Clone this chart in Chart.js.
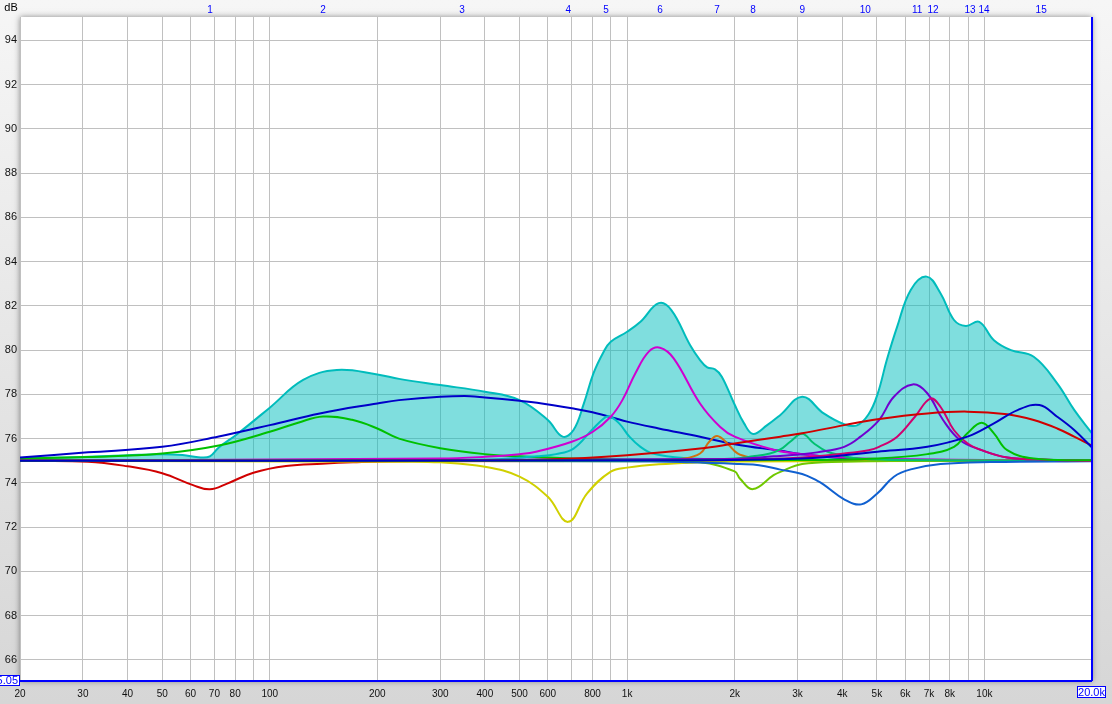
<!DOCTYPE html>
<html>
<head>
<meta charset="utf-8">
<title>EQ bands</title>
<script src="https://cdn.jsdelivr.net/npm/chart.js@4.4.1/dist/chart.umd.min.js"></script>
<style>
	html, body { margin: 0; padding: 0; background: #e8e8e8; overflow: hidden; }
</style>
</head>
<body>
<canvas id="eq" width="1112" height="704"></canvas>
<script>
// axis ticks
const xTicks = [20, 30, 40, 50, 60, 70, 80, 90, 100, 200, 300, 400, 500, 600, 700, 800, 900,
	1000, 2000, 3000, 4000, 5000, 6000, 7000, 8000, 9000, 10000, 20000];
const xUnlabelled = [90, 700, 900, 9000];
const yTicks = [66, 68, 70, 72, 74, 76, 78, 80, 82, 84, 86, 88, 90, 92, 94];

// band markers along the top
const bandHz = [68, 141, 345, 684, 873, 1236, 1786, 2250, 3090, 4640, 6480, 7180, 9110, 9980, 14410];
const bandNames = ['1', '2', '3', '4', '5', '6', '7', '8', '9', '10', '11', '12', '13', '14', '15'];
const bandColors = ['#d00000', '#00c000', '#0000c8', '#d0d000', '#00c0c0', '#d000d0', '#d07010',
	'#70c800', '#00c070', '#1060d0', '#7000d0', '#d00070', '#d00000', '#00c000', '#0000c8'];

// band curves (Hz / dB)
const band1Hz = [20, 31, 40, 50, 61, 68, 76, 90, 111, 140, 171, 250, 20000];
const band1Db = [74.99, 74.96, 74.75, 74.44, 73.9, 73.71, 73.97, 74.46, 74.76, 74.87, 74.93, 74.98, 75];
const band2Hz = [20, 31, 50, 72, 100, 120, 141, 170, 200, 230, 300, 400, 500, 700, 1000, 20000];
const band2Db = [75.1, 75.17, 75.33, 75.69, 76.31, 76.72, 77.0, 76.85, 76.46, 76.0, 75.57, 75.3, 75.2, 75.1, 75.05, 75];
const band3Hz = [20, 31, 50, 72, 100, 138, 200, 230, 300, 364, 400, 500, 560, 700, 800, 1000, 1226, 1600, 2000, 2685, 3090, 4000, 5000, 20000];
const band3Db = [75.15, 75.38, 75.63, 76.1, 76.61, 77.14, 77.59, 77.74, 77.89, 77.92, 77.86, 77.71, 77.62, 77.37, 77.19, 76.77, 76.46, 76.09, 75.75, 75.45, 75.3, 75.12, 75.06, 75];
const band4Hz = [20, 230, 300, 400, 500, 600, 684, 773, 900, 1000, 1226, 1600, 2000, 20000];
const band4Db = [75, 74.96, 74.93, 74.73, 74.28, 73.37, 72.24, 73.53, 74.51, 74.69, 74.84, 74.93, 74.97, 75];
const band5Hz = [20, 400, 560, 633, 708, 797, 860, 890, 950, 1015, 1090, 1180, 1440, 2000, 20000];
const band5Db = [75, 75.05, 75.2, 75.3, 75.55, 76.39, 76.91, 77.01, 76.69, 76.09, 75.63, 75.33, 75.12, 75.05, 75];
const band6Hz = [20, 300, 400, 500, 560, 700, 800, 900, 970, 1055, 1150, 1236, 1350, 1600, 1822, 2000, 2570, 3090, 4000, 5000, 20000];
const band6Db = [75, 75.1, 75.18, 75.3, 75.42, 75.86, 76.3, 76.99, 77.74, 78.95, 79.93, 80.11, 79.63, 77.59, 76.53, 76.09, 75.5, 75.3, 75.15, 75.08, 75];
const band7Hz = [20, 1200, 1440, 1600, 1698, 1786, 1906, 2037, 2220, 2600, 20000];
const band7Db = [75, 75.03, 75.1, 75.33, 75.86, 76.12, 75.79, 75.33, 75.15, 75.05, 75];
const band8Hz = [20, 1000, 1600, 2000, 2068, 2250, 2570, 2685, 3090, 4000, 6000, 20000];
const band8Db = [75, 74.98, 74.93, 74.52, 74.2, 73.72, 74.35, 74.5, 74.85, 74.96, 74.99, 75];
const band9Hz = [20, 1500, 2000, 2250, 2510, 2685, 2860, 3090, 3330, 3630, 3900, 4300, 5500, 20000];
const band9Db = [75, 75.05, 75.1, 75.2, 75.33, 75.51, 75.86, 76.22, 75.79, 75.41, 75.28, 75.12, 75.04, 75];
const band10Hz = [20, 1000, 1500, 2068, 2340, 2685, 3090, 3400, 3550, 4050, 4520, 5020, 5580, 6220, 7540, 10400, 20000];
const band10Db = [75, 74.98, 74.93, 74.85, 74.8, 74.6, 74.4, 74.1, 73.92, 73.26, 73.03, 73.53, 74.28, 74.61, 74.85, 74.94, 74.98];
const band11Hz = [20, 2000, 2570, 3090, 3400, 4050, 4500, 5070, 5580, 6300, 6920, 7660, 8550, 9820, 11580, 15000, 20000];
const band11Db = [75, 75.08, 75.2, 75.3, 75.38, 75.63, 76.09, 76.84, 77.89, 78.45, 78.05, 76.84, 75.93, 75.48, 75.15, 75.05, 75];
const band12Hz = [20, 2000, 3090, 4050, 4740, 5070, 5700, 6390, 7060, 7540, 8220, 8960, 9820, 11580, 15000, 20000];
const band12Db = [75, 75.05, 75.15, 75.33, 75.48, 75.63, 76.09, 76.99, 77.81, 77.43, 76.38, 75.79, 75.48, 75.15, 75.05, 75];
const band13Hz = [20, 300, 600, 1000, 1600, 2000, 2685, 3090, 4050, 5020, 6920, 8960, 11580, 13740, 15980, 17830, 20000];
const band13Db = [75, 75, 75.06, 75.25, 75.55, 75.78, 76.09, 76.24, 76.61, 76.88, 77.14, 77.22, 77.1, 76.84, 76.46, 76.09, 75.68];
const band14Hz = [20, 3000, 5000, 6920, 8220, 8960, 9820, 10630, 11580, 13740, 20000];
const band14Db = [75, 75.03, 75.1, 75.3, 75.63, 76.24, 76.72, 76.24, 75.48, 75.1, 75.02];
const band15Hz = [20, 1000, 3090, 5020, 6920, 8960, 10630, 12380, 14250, 15980, 17830, 20000];
const band15Db = [75, 75.02, 75.1, 75.41, 75.63, 76.09, 76.69, 77.29, 77.52, 76.99, 76.39, 75.6];

// summed response (filled)
const totalHz = [20, 30, 40, 50, 57, 64, 68, 72, 81, 100, 124, 154, 200, 230, 300, 400, 500, 600, 660, 708,
	757, 805, 860, 900, 1000, 1090, 1226, 1330, 1500, 1600, 1676, 1762, 1841, 1993, 2125, 2252, 2466, 2685, 3090, 3550,
	4050, 4400, 4740, 5020, 5330, 5700, 6220, 6890, 7540, 8220, 8870, 9670, 10630, 11860, 13740, 15980, 17830, 20000];
const totalDb = [75.12, 75.17, 75.25, 75.3, 75.26, 75.15, 75.2, 75.6, 76.2, 77.4, 78.65, 79.1, 78.9, 78.7, 78.42, 78.12, 77.74, 76.84, 76.09, 76.39,
	77.59, 78.95, 79.93, 80.38, 80.83, 81.28, 82.12, 81.81, 80.23, 79.55, 79.22, 79.13, 78.8, 77.59, 76.69, 76.21, 76.61, 77.07, 77.89, 77.14,
	76.65, 76.6, 77.1, 78.0, 79.55, 81.06, 82.72, 83.32, 82.56, 81.36, 81.09, 81.28, 80.45, 80.0, 79.7, 78.5, 77.3, 76.24];

const bandCurves = [
	[band1Hz, band1Db], [band2Hz, band2Db], [band3Hz, band3Db], [band4Hz, band4Db], [band5Hz, band5Db],
	[band6Hz, band6Db], [band7Hz, band7Db], [band8Hz, band8Db], [band9Hz, band9Db], [band10Hz, band10Db],
	[band11Hz, band11Db], [band12Hz, band12Db], [band13Hz, band13Db], [band14Hz, band14Db], [band15Hz, band15Db]
];

const labelFont = { family: 'Liberation Sans', size: 11 };

function toPoints(hz, db) {
	return hz.map((f, i) => ({ x: f, y: db[i] }));
}

function hzLabel(v) {
	if (xUnlabelled.includes(v)) return '';
	if (v === 20000) return '20kHz';
	return v >= 1000 ? (v / 1000) + 'k' : String(v);
}

const datasets = bandCurves.map((c, i) => ({
	label: 'Band ' + bandNames[i],
	data: toPoints(c[0], c[1]),
	borderColor: bandColors[i],
	borderWidth: 2,
	pointRadius: 0,
	fill: false,
	tension: 0.4,
	order: 15 - i
}));

datasets.push({
	label: 'Total',
	data: toPoints(totalHz, totalDb),
	borderColor: '#00bcbc',
	backgroundColor: 'rgba(0, 190, 190, 0.5)',
	borderWidth: 2,
	pointRadius: 0,
	fill: { value: 75 },
	tension: 0.4,
	order: 100
});

function drawBox(ctx, text, x, y, w, h, align) {
	ctx.fillStyle = '#ffffff';
	ctx.fillRect(x, y, w, h);
	ctx.strokeStyle = '#0000ff';
	ctx.lineWidth = 1;
	ctx.strokeRect(x + 0.5, y + 0.5, w - 1, h - 1);
	ctx.fillStyle = '#0000ff';
	ctx.font = '11px "Liberation Sans"';
	ctx.textBaseline = 'middle';
	ctx.textAlign = align;
	ctx.fillText(text, align === 'right' ? x + w - 2 : x + w / 2, y + h / 2 + 0.5);
}

const panelPlugin = {
	id: 'panel',
	beforeDraw(chart) {
		const { ctx, chartArea: a, width, height } = chart;
		ctx.save();
		const g = ctx.createLinearGradient(0, 0, 0, height);
		g.addColorStop(0, '#f6f6f6');
		g.addColorStop(1, '#d6d6d6');
		ctx.fillStyle = g;
		ctx.fillRect(0, 0, width, height);
		ctx.shadowColor = 'rgba(0, 0, 0, 0.45)';
		ctx.shadowBlur = 6;
		ctx.fillStyle = '#ffffff';
		ctx.fillRect(a.left, a.top, a.right - a.left, a.bottom - a.top);
		ctx.restore();
	},
	afterDraw(chart) {
		const { ctx, chartArea: a } = chart;
		ctx.save();
		ctx.strokeStyle = '#0000ff';
		ctx.lineWidth = 2;
		ctx.beginPath();
		ctx.moveTo(a.left, a.bottom);
		ctx.lineTo(a.right, a.bottom);
		ctx.moveTo(a.right, a.top);
		ctx.lineTo(a.right, a.bottom);
		ctx.stroke();
		ctx.fillStyle = '#000000';
		ctx.font = '11px "Liberation Sans"';
		ctx.textAlign = 'center';
		ctx.textBaseline = 'middle';
		ctx.fillText('dB', 11, 8);
		drawBox(ctx, '65.05', -20, 675, 40, 11, 'right');
		drawBox(ctx, '20.0k', 1077, 686, 29, 12, 'center');
		ctx.restore();
	}
};

const config = {
	type: 'line',
	data: { datasets: datasets },
	options: {
		responsive: false,
		animation: false,
		devicePixelRatio: 1,
		layout: { padding: { left: 0, right: 20, top: 0, bottom: 0 } },
		scales: {
			x: {
				type: 'logarithmic',
				position: 'bottom',
				min: 20,
				max: 20000,
				afterBuildTicks: (s) => { s.ticks = xTicks.map(v => ({ value: v })); },
				afterFit: (s) => { s.height = 23; s.paddingLeft = 0; s.paddingRight = 0; },
				grid: { color: '#c0c0c0', lineWidth: 1, drawTicks: false },
				border: { display: false },
				ticks: {
					autoSkip: false,
					maxRotation: 0,
					padding: 7,
					color: '#111111',
					font: { family: 'Liberation Sans', size: 10 },
					callback: (v) => hzLabel(v)
				}
			},
			bands: {
				type: 'logarithmic',
				axis: 'x',
				position: 'top',
				min: 20,
				max: 20000,
				afterBuildTicks: (s) => { s.ticks = bandHz.map(v => ({ value: v })); },
				afterFit: (s) => { s.height = 17; s.paddingLeft = 0; s.paddingRight = 0; },
				grid: { display: false, drawTicks: false },
				border: { display: false },
				ticks: {
					autoSkip: false,
					maxRotation: 0,
					padding: 1,
					color: '#0000ff',
					font: { family: 'Liberation Sans', size: 10 },
					callback: (v, i) => bandNames[i]
				}
			},
			y: {
				min: 65.05,
				max: 95.05,
				afterBuildTicks: (s) => { s.ticks = yTicks.map(v => ({ value: v })); },
				afterFit: (s) => { s.width = 20; s.paddingTop = 0; s.paddingBottom = 0; },
				grid: { color: '#c0c0c0', lineWidth: 1, drawTicks: false },
				border: { display: false },
				ticks: {
					padding: 3,
					color: '#111111',
					font: labelFont,
					callback: (v) => String(v)
				}
			}
		},
		plugins: {
			legend: { display: false },
			tooltip: { enabled: false }
		}
	},
	plugins: [panelPlugin]
};

function createEqChart(ctx) {
	return new Chart(ctx, config);
}

createEqChart(document.getElementById('eq'));
</script>
</body>
</html>
